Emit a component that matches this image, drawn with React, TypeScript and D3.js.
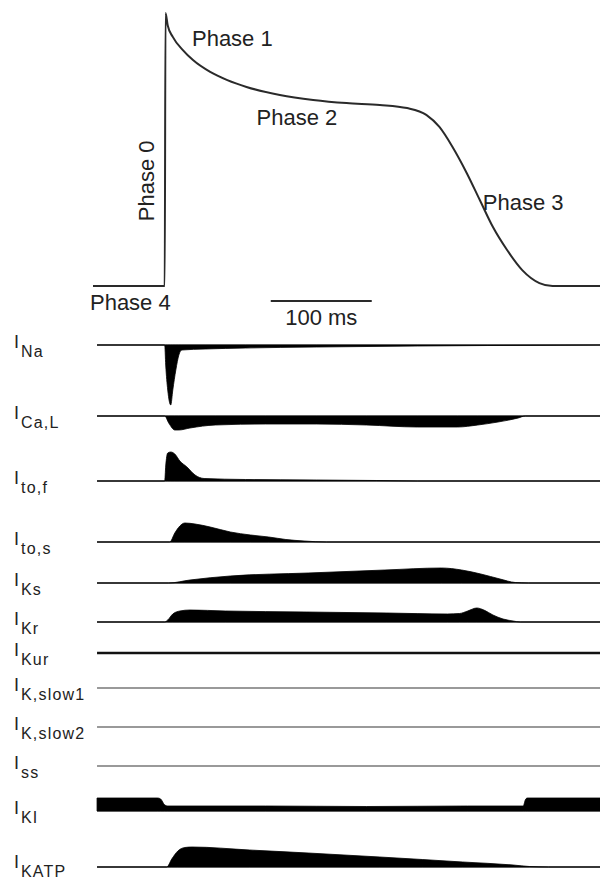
import React, { useRef, useEffect } from "react";
import * as d3 from "d3";

// action potential: time (ms, 0 = upstroke) and membrane potential (mV)
const apTime = [-71, 0, 0.8, 3, 8, 18, 28, 45, 62, 81, 114, 147, 180, 213, 240, 259, 272, 285, 299, 312, 325, 339, 354, 371, 384, 431];
const apVoltage = [-80, -80, 40, 34.5, 29.5, 23.7, 19.3, 14.1, 10.5, 7.5, 4, 1.8, 0.4, -0.4, -1.8, -4.8, -10.1, -18.9, -30.3, -42.2, -54.1, -64.2, -73, -78.7, -80, -80];

const phaseLabels = ["Phase 0", "Phase 1", "Phase 2", "Phase 3", "Phase 4"];

// currents: time (ms) and relative amplitude (outward +, inward -)
const naTime = [-67, 0, 1, 3, 6, 8, 11, 14, 17, 40, 80, 150, 250, 320, 431];
const naAmp = [0, 0, -20, -45, -60, -45, -25, -10, -5, -4, -3, -2, -1, -0.5, 0];

const caTime = [-67, 0, 4, 10, 14, 25, 50, 100, 150, 200, 250, 290, 310, 330, 350, 357, 431];
const caAmp = [0, 0, -7, -14, -14, -12, -9, -8, -8, -9, -11, -11, -9, -6, -2, 0, 0];

const tofTime = [-67, 0, 1, 3, 6, 10, 15, 22, 30, 39, 80, 150, 210, 250, 431];
const tofAmp = [0, 0, 15, 28, 29, 27, 20, 14, 6, 2.5, 1.5, 1, 0.5, 0, 0];

const tosTime = [-67, 5, 10, 15, 20, 30, 45, 65, 85, 103, 120, 138, 160, 431];
const tosAmp = [0, 0, 9, 16, 19, 18, 15, 10, 7, 5, 2.5, 1, 0, 0];

const ksTime = [-67, 4, 25, 65, 142, 218, 274, 294, 313, 332, 347, 360, 431];
const ksAmp = [0, 0, 3, 7, 10, 13, 15, 13, 9, 4, 0.5, 0, 0];

const krTime = [-67, 0, 3, 8, 15, 25, 60, 140, 220, 280, 292, 300, 309, 316, 325, 335, 345, 352, 431];
const krAmp = [0, 0, 2, 8, 11, 12, 11, 10, 9, 8, 8.5, 11, 14, 12, 7, 3, 1, 0, 0];

const flatTime = [-67, 431];
const flatAmp = [0, 0];

const k1Time = [-67, -7, -4, 0, 3, 100, 200, 300, 355, 357, 359, 431];
const k1Amp = [13, 13, 12, 6, 5, 5, 4.5, 5, 5, 11, 13, 13];

const katpTime = [-67, 2, 7, 13, 20, 27, 84, 142, 213, 255, 295, 345, 361, 380, 431];
const katpAmp = [0, 0, 8, 16, 19.5, 20, 17, 14, 10, 7.5, 5, 2, 0.5, 0, 0];

const currentNames = ["Na", "Ca,L", "to,f", "to,s", "Ks", "Kr", "Kur", "K,slow1", "K,slow2", "ss", "KI", "KATP"];
const currentTimes = [naTime, caTime, tofTime, tosTime, ksTime, krTime, flatTime, flatTime, flatTime, flatTime, k1Time, katpTime];
const currentAmps = [naAmp, caAmp, tofAmp, tosAmp, ksAmp, krAmp, flatAmp, flatAmp, flatAmp, flatAmp, k1Amp, katpAmp];

// layout (px): baseline of each current row
const rowBaselines = [345, 416, 481, 542, 583, 622, 653, 688, 727, 766, 811, 867];

const App = () => {
  const svgRef = useRef<SVGSVGElement>(null);

  useEffect(() => {
    const svg = d3.select(svgRef.current);
    svg.selectAll("*").remove();

    const font = "'Liberation Sans', Arial, Helvetica, sans-serif";
    const height = 879;

    const x = d3.scaleLinear().domain([-71, 431]).range([93, 600]);
    const yV = d3.scaleLinear().domain([-80, 40]).range([286, 13]);
    const amp = d3.scaleLinear().domain([0, 60]).range([0, 60]);

    // action potential
    const ap = apTime.map((t, i) => [t, apVoltage[i]] as [number, number]);
    svg
      .append("path")
      .datum(ap)
      .attr(
        "d",
        d3
          .line<[number, number]>()
          .x((d) => x(d[0]))
          .y((d) => yV(d[1]))
          .curve(d3.curveMonotoneX)
      )
      .attr("fill", "none")
      .attr("stroke", "#2a2a2a")
      .attr("stroke-width", 2);

    // phase labels (anchored in time / voltage)
    const phasePos = [
      [-10, -33.8],
      [27, 25.5],
      [91, -9.2],
      [315, -46.6],
      [-74, -90.5],
    ];
    phaseLabels.forEach((label, i) => {
      const [t, v] = phasePos[i];
      const txt = svg
        .append("text")
        .text(label)
        .attr("font-family", font)
        .attr("font-size", 22)
        .attr("fill", "#222");
      if (i === 0) {
        txt
          .attr("text-anchor", "middle")
          .attr("transform", `translate(${x(t) - 1},${yV(v)}) rotate(-90)`);
      } else {
        txt.attr("x", x(t)).attr("y", yV(v));
      }
    });

    // 100 ms scale bar
    const barStart = 105;
    const barLen = 100;
    svg
      .append("line")
      .attr("x1", x(barStart))
      .attr("x2", x(barStart + barLen))
      .attr("y1", 301)
      .attr("y2", 301)
      .attr("stroke", "#2a2a2a")
      .attr("stroke-width", 2);
    svg
      .append("text")
      .text("100 ms")
      .attr("x", x(barStart + barLen / 2))
      .attr("y", 325)
      .attr("text-anchor", "middle")
      .attr("font-family", font)
      .attr("font-size", 22)
      .attr("fill", "#222");

    // ionic currents
    currentNames.forEach((name, i) => {
      const base = rowBaselines[i];
      const pts = currentTimes[i].map((t, j) => [t, currentAmps[i][j]] as [number, number]);
      const g = svg.append("g");

      g.append("line")
        .attr("x1", x(currentTimes[i][0]))
        .attr("x2", x(431))
        .attr("y1", base)
        .attr("y2", base)
        .attr("stroke", name === "Kur" ? "#111" : "#777")
        .attr("stroke-width", name === "Kur" ? 2.5 : 1.5);

      if (d3.max(pts, (d) => Math.abs(d[1]))! > 0) {
        g.append("path")
          .datum(pts)
          .attr(
            "d",
            d3
              .area<[number, number]>()
              .x((d) => x(d[0]))
              .y0(base)
              .y1((d) => base - amp(d[1]))
              .curve(d3.curveMonotoneX)
          )
          .attr("fill", "#000")
          .attr("stroke", "#000")
          .attr("stroke-width", 0.8);
      }

      const subY = Math.min(base + 12, height - 2);
      g.append("text")
        .text("I")
        .attr("x", 14)
        .attr("y", subY - 9)
        .attr("font-family", font)
        .attr("font-size", 18)
        .attr("fill", "#222");
      g.append("text")
        .text(name)
        .attr("x", 21)
        .attr("y", subY)
        .attr("font-family", font)
        .attr("font-size", 16)
        .attr("letter-spacing", 1.2)
        .attr("fill", "#222");
    });
  }, []);

  return (
    <svg
      ref={svgRef}
      width={600}
      height={879}
      style={{ position: "absolute", left: 0, top: 0, background: "#fff" }}
    ></svg>
  );
};

export default App;
